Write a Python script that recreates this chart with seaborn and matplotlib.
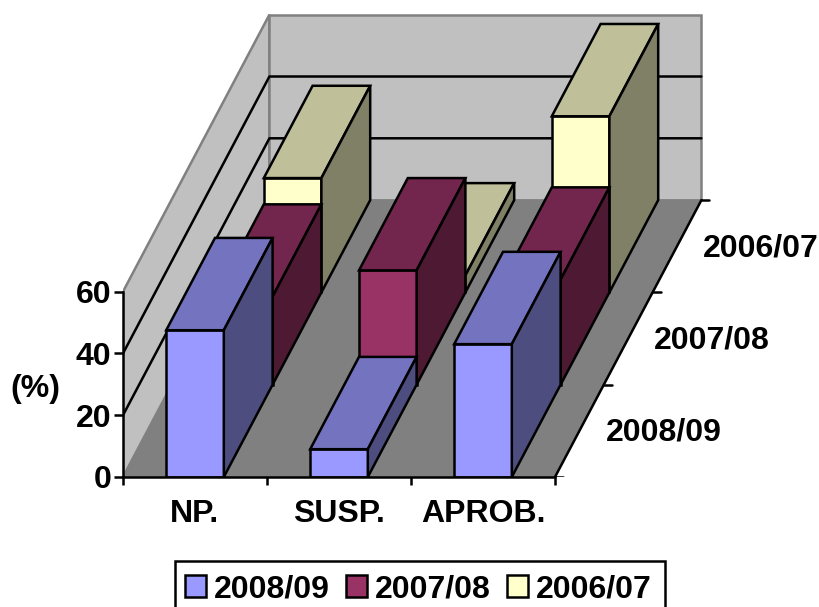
import numpy as np
import pandas as pd
import matplotlib.pyplot as plt
from matplotlib.patches import Polygon, Rectangle
import seaborn as sns

categories = ["NP.", "SUSP.", "APROB."]
series_names = ["2008/09", "2007/08", "2006/07"]
values_0809 = [47.5, 9, 43]
values_0708 = [28.5, 37, 34]
values_0607 = [37, 5.5, 57]

front_colors = ["#9999FF", "#993366", "#FFFFCC"]
top_colors = ["#7373BF", "#73264D", "#BFBF99"]
side_colors = ["#4D4D80", "#4D1933", "#808066"]

sns.set_theme(style="white")
plt.rcParams["font.family"] = ["Liberation Sans", "DejaVu Sans"]
plt.rcParams["font.weight"] = "bold"
plt.rcParams["text.color"] = "black"
plt.rcParams["xtick.color"] = "black"
plt.rcParams["ytick.color"] = "black"
FS = 23
LW = 1.8

W, H = 819, 607
fig = plt.figure(figsize=(W / 100, H / 100), dpi=100)
# axes run from the chart origin (123, 477 px) to the top right corner of the figure
ax = fig.add_axes([123 / W, 1 - 477 / H, (W - 123) / W, 477 / H])
ax.patch.set_visible(False)

px_x = 144.0   # px per category
px_y = 3.09    # px per percent
dx = 48.8 / px_x   # one series step in depth
dy = 92.3 / px_y
bar_w = 0.4
n = len(series_names)


def proj(x, y, d):
    return (x + d * dx, y + d * dy)


# walls and floor
floor = [proj(0, 0, 0), proj(3, 0, 0), proj(3, 0, n), proj(0, 0, n)]
back = [proj(0, 0, n), proj(3, 0, n), proj(3, 60, n), proj(0, 60, n)]
side = [proj(0, 0, 0), proj(0, 0, n), proj(0, 60, n), proj(0, 60, 0)]
ax.add_patch(Polygon(side, fc="#C0C0C0", ec="#808080", lw=LW, zorder=0.5))
ax.add_patch(Polygon(back, fc="#C0C0C0", ec="#808080", lw=LW, zorder=0.5))
ax.add_patch(Polygon(floor, fc="#808080", ec="#808080", lw=1, zorder=0.6))
for g in [20, 40]:
    a, b, c = proj(0, g, 0), proj(0, g, n), proj(3, g, n)
    ax.plot([a[0], b[0], c[0]], [a[1], b[1], c[1]], color="black", lw=LW, zorder=0.7)

# depth axis on the right of the floor
a, b = proj(3, 0, 0), proj(3, 0, n)
ax.plot([a[0], b[0]], [a[1], b[1]], color="black", lw=LW, zorder=0.8)
for d in range(n + 1):
    p = proj(3, 0, d)
    ax.plot([p[0], p[0] + 8 / px_x], [p[1], p[1]], color="black", lw=LW, zorder=0.8)
for d, name in enumerate(series_names):
    p = proj(3, 0, d + 0.5)
    ax.text(p[0] + 26 / px_x, p[1] - 2 / px_y, name, fontsize=FS, fontweight="bold",
            ha="left", va="center", color="black")

# bars, back series first so the front ones cover them
all_values = [values_0809, values_0708, values_0607]
centers = np.arange(len(categories)) + 0.5
containers = {}
for d in [2, 1, 0]:
    df = pd.DataFrame({"x": centers + d * dx, "y": all_values[d]})
    before = len(ax.containers)
    sns.barplot(data=df, x="x", y="y", native_scale=True, width=bar_w, bottom=d * dy,
                color=front_colors[d], saturation=1, errorbar=None, ax=ax,
                edgecolor="black", linewidth=LW, zorder=3 - d)
    containers[d] = ax.containers[before]
    for c, v in zip(centers, all_values[d]):
        l, r = c - bar_w / 2, c + bar_w / 2
        top = [proj(l, v, d), proj(r, v, d), proj(r, v, d + 1), proj(l, v, d + 1)]
        right = [proj(r, 0, d), proj(r, 0, d + 1), proj(r, v, d + 1), proj(r, v, d)]
        ax.add_patch(Polygon(top, fc=top_colors[d], ec="black", lw=LW, zorder=3 - d,
                             joinstyle="miter"))
        ax.add_patch(Polygon(right, fc=side_colors[d], ec="black", lw=LW, zorder=3 - d,
                             joinstyle="miter"))

ax.set_xlim(0, (W - 123) / px_x)
ax.set_ylim(0, 477 / px_y)
ax.set_xlabel("")
ax.set_ylabel("")

# axes
sns.despine(ax=ax)
ax.spines["left"].set_bounds(0, 60)
ax.spines["bottom"].set_bounds(0, 3)
for s in ["left", "bottom"]:
    ax.spines[s].set_color("black")
    ax.spines[s].set_linewidth(LW)
    ax.spines[s].set_zorder(5)
ax.set_axisbelow(False)
ax.set_yticks([0, 20, 40, 60])
ax.set_xticks([0, 1, 2, 3])
ax.set_xticklabels([])
ax.set_xticks(centers, minor=True)
ax.set_xticklabels(categories, minor=True, fontsize=FS, fontweight="bold")
ax.tick_params(axis="y", left=True, length=6.5, width=LW, pad=2, labelsize=FS, color="black")
ax.tick_params(axis="x", which="major", bottom=True, length=6, width=LW, color="black")
ax.tick_params(axis="x", which="minor", bottom=False, length=0, pad=16)
for t in ax.get_yticklabels():
    t.set_fontweight("bold")
fig.text(35 / W, 1 - 389 / H, "(%)", fontsize=FS, fontweight="bold", ha="center", va="center")

# legend box runs past the bottom of the picture, as in the original
fig.add_artist(Rectangle((175 / W, 1 - 630 / H), 490 / W, 69 / H, transform=fig.transFigure,
                         fc="white", ec="black", lw=LW, zorder=4))
leg = fig.legend([containers[i] for i in range(n)], series_names, loc="upper left",
                 bbox_to_anchor=(185 / W, 1 - 574 / H), borderaxespad=0, ncol=3,
                 frameon=False, prop={"size": FS, "weight": "bold"},
                 handlelength=0.66, handleheight=0.66,
                 handletextpad=0.25, columnspacing=0.5, borderpad=0)
leg.set_zorder(6)
for h in leg.get_patches():
    h.set_edgecolor("black")
    h.set_linewidth(LW)

fig.savefig("out.png", dpi=100)
